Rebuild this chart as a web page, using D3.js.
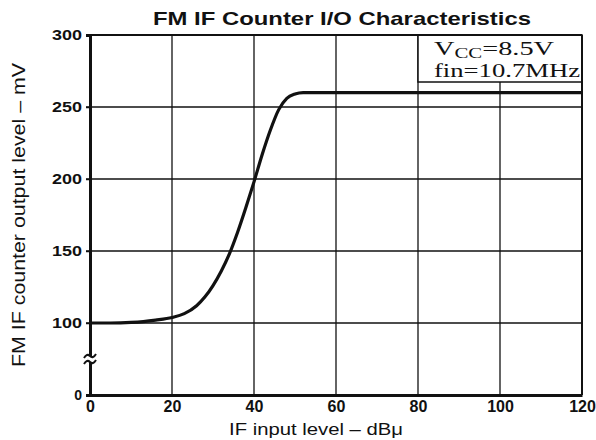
<!DOCTYPE html>
<html>
<head>
<meta charset="utf-8">
<script src="https://cdn.jsdelivr.net/npm/d3@7"></script>
<style>
  html, body { margin: 0; padding: 0; background: #fff; }
  svg { display: block; }
</style>
</head>
<body>
<svg id="chart" width="596" height="440"></svg>
<script>
// ---- data ----
const inputLevel  = [0, 5, 10, 13, 16, 20, 23, 26, 28, 30, 32, 34, 36, 38, 40, 42, 44, 46, 48, 50, 52, 55, 60, 80, 100, 120];
const outputLevel = [100, 100, 100.4, 101, 102, 103.8, 106.5, 112, 118, 126, 136, 148, 163, 180, 198, 217, 234, 248, 256, 259, 260, 260, 260, 260, 260, 260];
const xTicks = [0, 20, 40, 60, 80, 100, 120];
const yTicks = [0, 100, 150, 200, 250, 300];
const yGrid = [100, 150, 200, 250];
const xGrid = [20, 40, 60, 80, 100];
const titleText = "FM IF Counter I/O Characteristics";
const xLabel = "IF input level – dBμ";
const yLabel = "FM IF counter output level – mV";
const legendLines = [["V", "CC", "=8.5V"], ["fin=10.7MHz", "", ""]];

const svg = d3.select("#chart");
const x = d3.scaleLinear().domain([0, 120]).range([90, 582]);
// broken axis: 0 sits one interval below 100
const y = d3.scaleLinear().domain([0, 100, 300]).range([395, 323, 35]);

const ink = "#111";

// grid
svg.append("g").selectAll("line.v").data(xGrid).join("line")
  .attr("x1", d => x(d)).attr("x2", d => x(d))
  .attr("y1", y(0)).attr("y2", y(300))
  .attr("stroke", ink).attr("stroke-width", 1.3);
svg.append("g").selectAll("line.h").data(yGrid).join("line")
  .attr("x1", x(0) - 4).attr("x2", x(120))
  .attr("y1", d => y(d)).attr("y2", d => y(d))
  .attr("stroke", ink).attr("stroke-width", 1.3);

// legend box (white, covers grid)
const bx0 = x(80), bx1 = x(120), by0 = y(300), by1 = y(300) + 47;
svg.append("rect").attr("x", bx0).attr("y", by0).attr("width", bx1 - bx0).attr("height", by1 - by0)
  .attr("fill", "#fff").attr("stroke", ink).attr("stroke-width", 1.5);

const legendLens = [120, 146];
legendLines.forEach((parts, i) => {
  const t = svg.append("text")
    .attr("x", bx0 + 16).attr("y", by0 + 20 + i * 22)
    .attr("font-family", "'Liberation Serif', 'Times New Roman', serif")
    .attr("font-size", 19).attr("fill", ink)
    .attr("textLength", legendLens[i]).attr("lengthAdjust", "spacingAndGlyphs");
  t.append("tspan").text(parts[0]);
  if (parts[1]) {
    t.append("tspan").attr("font-size", 14).attr("dy", 3).text(parts[1]);
    t.append("tspan").attr("dy", -3).text(parts[2]);
  }
});

// curve
const line = d3.line().x((d, i) => x(inputLevel[i])).y(d => y(d)).curve(d3.curveMonotoneX);
svg.append("path").datum(outputLevel).attr("d", line)
  .attr("fill", "none").attr("stroke", ink).attr("stroke-width", 3.2)
  .attr("stroke-linejoin", "round");

// frame
svg.append("line").attr("x1", x(0)).attr("x2", x(120)).attr("y1", y(300)).attr("y2", y(300))
  .attr("stroke", ink).attr("stroke-width", 2);
svg.append("line").attr("x1", x(120)).attr("x2", x(120)).attr("y1", y(300)).attr("y2", y(0))
  .attr("stroke", ink).attr("stroke-width", 2);

// axes
const xAxis = svg.append("g").attr("transform", `translate(0,${y(0)})`)
  .call(d3.axisBottom(x).tickValues(xTicks).tickSize(0).tickPadding(6).tickFormat(d3.format("d")));
xAxis.select(".domain").attr("stroke", ink).attr("stroke-width", 3);
xAxis.selectAll("text").attr("font-family", "'Liberation Sans', Arial, sans-serif")
  .attr("font-weight", "bold").attr("font-size", 16).attr("fill", ink);

const yAxis = svg.append("g").attr("transform", `translate(${x(0)},0)`)
  .call(d3.axisLeft(y).tickValues(yTicks).tickSize(4).tickPadding(4).tickFormat(d3.format("d")));
yAxis.select(".domain").attr("stroke", ink).attr("stroke-width", 3);
yAxis.selectAll(".tick line").attr("stroke", ink).attr("stroke-width", 1.5);
yAxis.selectAll("text").attr("font-family", "'Liberation Sans', Arial, sans-serif")
  .attr("font-weight", "bold").attr("font-size", 14).attr("fill", ink)
  .each(function(d) { if (d >= 100) d3.select(this).attr("textLength", 30).attr("lengthAdjust", "spacingAndGlyphs"); });

// axis break mark
const by = (y(0) + y(100)) / 2;
svg.append("rect").attr("x", x(0) - 3).attr("y", by - 3).attr("width", 6).attr("height", 6).attr("fill", "#fff");
[-3, 3].forEach(o => {
  svg.append("path")
    .attr("d", `M${x(0) - 6},${by + o + 2} q3,-5 6,-2 t6,-2`)
    .attr("fill", "none").attr("stroke", ink).attr("stroke-width", 2);
});

// title
svg.append("text").attr("x", 342).attr("y", 25).attr("text-anchor", "middle")
  .attr("font-family", "'Liberation Sans', Arial, sans-serif").attr("font-weight", "bold")
  .attr("font-size", 19).attr("fill", ink)
  .attr("textLength", 378).attr("lengthAdjust", "spacingAndGlyphs").text(titleText);

// axis labels
svg.append("text").attr("x", 316).attr("y", 435).attr("text-anchor", "middle")
  .attr("font-family", "'Liberation Sans', Arial, sans-serif").attr("font-size", 17).attr("fill", ink)
  .attr("textLength", 174).attr("lengthAdjust", "spacingAndGlyphs").text(xLabel);
svg.append("text").attr("transform", "translate(25,215) rotate(-90)").attr("text-anchor", "middle")
  .attr("font-family", "'Liberation Sans', Arial, sans-serif").attr("font-size", 18).attr("fill", ink)
  .attr("textLength", 304).attr("lengthAdjust", "spacingAndGlyphs").text(yLabel);
</script>
</body>
</html>
